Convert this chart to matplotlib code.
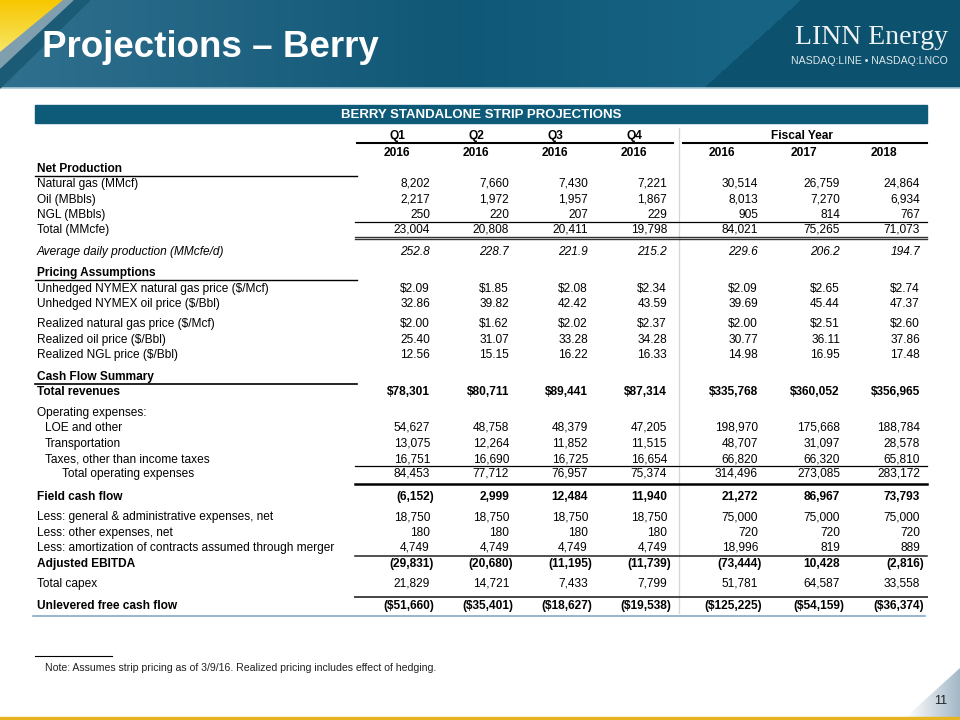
import matplotlib
matplotlib.use("Agg")
import matplotlib.pyplot as plt
import numpy as np
from matplotlib.patches import Polygon, Rectangle

plt.rcParams['font.family'] = ['Liberation Sans', 'DejaVu Sans']

#-- table data
col_heads = ["Q1", "Q2", "Q3", "Q4"]
col_years = ["2016", "2016", "2016", "2016", "2016", "2017", "2018"]

nat_gas = [8202, 7660, 7430, 7221, 30514, 26759, 24864]
oil = [2217, 1972, 1957, 1867, 8013, 7270, 6934]
ngl = [250, 220, 207, 229, 905, 814, 767]
total_prod = [23004, 20808, 20411, 19798, 84021, 75265, 71073]
avg_daily = [252.8, 228.7, 221.9, 215.2, 229.6, 206.2, 194.7]

nymex_gas = [2.09, 1.85, 2.08, 2.34, 2.09, 2.65, 2.74]
nymex_oil = [32.86, 39.82, 42.42, 43.59, 39.69, 45.44, 47.37]
real_gas = [2.00, 1.62, 2.02, 2.37, 2.00, 2.51, 2.60]
real_oil = [25.40, 31.07, 33.28, 34.28, 30.77, 36.11, 37.86]
real_ngl = [12.56, 15.15, 16.22, 16.33, 14.98, 16.95, 17.48]

revenues = [78301, 80711, 89441, 87314, 335768, 360052, 356965]
loe = [54627, 48758, 48379, 47205, 198970, 175668, 188784]
transport = [13075, 12264, 11852, 11515, 48707, 31097, 28578]
taxes = [16751, 16690, 16725, 16654, 66820, 66320, 65810]
total_opex = [84453, 77712, 76957, 75374, 314496, 273085, 283172]
field_cf = [-6152, 2999, 12484, 11940, 21272, 86967, 73793]
gna = [18750, 18750, 18750, 18750, 75000, 75000, 75000]
other_exp = [180, 180, 180, 180, 720, 720, 720]
amort = [4749, 4749, 4749, 4749, 18996, 819, 889]
adj_ebitda = [-29831, -20680, -11195, -11739, -73444, 10428, -2816]
capex = [21829, 14721, 7433, 7799, 51781, 64587, 33558]
unlev_fcf = [-51660, -35401, -18627, -19538, -125225, -54159, -36374]

note = "Note: Assumes strip pricing as of 3/9/16. Realized pricing includes effect of hedging."


def fmt(v, kind):
    if kind == "dec1":
        return "%.1f" % v
    if kind == "dec2":
        return "%.2f" % v
    if kind == "usd2":
        return "$%.2f" % v
    s = "{:,}".format(abs(int(v)))
    if kind == "usd0":
        s = "$" + s
    return "(" + s + ")" if v < 0 else s


# (label, values, format, weight/style, indent, y)
rows = [
    ("Net Production", None, None, "bold", 0, 168),
    ("Natural gas (MMcf)", nat_gas, "int", "normal", 0, 183),
    ("Oil (MBbls)", oil, "int", "normal", 0, 199),
    ("NGL (MBbls)", ngl, "int", "normal", 0, 214),
    ("Total (MMcfe)", total_prod, "int", "normal", 0, 229),
    ("Average daily production (MMcfe/d)", avg_daily, "dec1", "italic", 0, 251),
    ("Pricing Assumptions", None, None, "bold", 0, 272),
    ("Unhedged NYMEX natural gas price ($/Mcf)", nymex_gas, "usd2", "normal", 0, 288),
    ("Unhedged NYMEX oil price ($/Bbl)", nymex_oil, "dec2", "normal", 0, 303),
    ("Realized natural gas price ($/Mcf)", real_gas, "usd2", "normal", 0, 323),
    ("Realized oil price ($/Bbl)", real_oil, "dec2", "normal", 0, 339),
    ("Realized NGL price ($/Bbl)", real_ngl, "dec2", "normal", 0, 354),
    ("Cash Flow Summary", None, None, "bold", 0, 376),
    ("Total revenues", revenues, "usd0", "bold", 0, 391),
    ("Operating expenses:", None, None, "normal", 0, 412),
    ("LOE and other", loe, "int", "normal", 1, 427),
    ("Transportation", transport, "int", "normal", 1, 443),
    ("Taxes, other than income taxes", taxes, "int", "normal", 1, 458),
    ("Total operating expenses", total_opex, "int", "normal", 2, 473),
    ("Field cash flow", field_cf, "int", "bold", 0, 496),
    ("Less: general & administrative expenses, net", gna, "int", "normal", 0, 516),
    ("Less: other expenses, net", other_exp, "int", "normal", 0, 532),
    ("Less: amortization of contracts assumed through merger", amort, "int", "normal", 0, 547),
    ("Adjusted EBITDA", adj_ebitda, "int", "bold", 0, 563),
    ("Total capex", capex, "int", "normal", 0, 583),
    ("Unlevered free cash flow", unlev_fcf, "usd0", "bold", 0, 605),
]

col_right = [430, 509, 588, 667, 758, 840, 920]
indent_x = [37, 45, 62]
fs = 8.6

fig = plt.figure(figsize=(9.6, 7.2), dpi=100)
ax = fig.add_axes([0, 0, 1, 1])

#-- header banner
H, W = 88, 960
xx, yy = np.meshgrid(np.arange(W), np.arange(H))
c_left = np.array([0.19, 0.44, 0.56])
c_mid = np.array([0.06, 0.34, 0.46])
t = np.clip(xx / 460.0, 0, 1)[..., None]
img = c_left * (1 - t) + c_mid * t
diag = xx + 1.1 * yy - 800
glow = np.clip((xx - 430) / 300.0, 0, 1) * (diag < 0)
img = img + glow[..., None] * np.array([0.03, 0.05, 0.06])
img[diag >= 0] = np.array([0.05, 0.32, 0.43])
ax.imshow(img, extent=(0, 960, 88, 0), origin="upper", aspect="auto", zorder=0)
ax.plot([0, 960], [88, 88], color="#a9c6d4", lw=1.2, zorder=1)

ax.add_patch(Polygon([(0, 0), (90, 0), (0, 88)], closed=True, color="#1b5b75", zorder=2))
ax.add_patch(Polygon([(0, 0), (73, 0), (0, 68)], closed=True, color="#7f9fae", zorder=2))
yel = np.linspace(0, 1, 60)[:, None] * np.ones((1, 60))
yel_img = np.dstack([np.full_like(yel, 0.97), 0.78 + 0.12 * yel, 0.0 + 0.4 * yel])
tri_y = Polygon([(0, 0), (63, 0), (0, 52)], closed=True, transform=ax.transData)
im = ax.imshow(yel_img, extent=(0, 63, 52, 0), origin="upper", aspect="auto", zorder=3)
im.set_clip_path(tri_y)

ax.text(42, 57, "Projections \u2013 Berry", color="white", fontsize=26.5,
        fontweight="bold", ha="left", va="baseline", zorder=4)
ax.text(948, 38, "LINN Energy", color="#eef3f6", fontsize=20,
        family=["Liberation Serif", "DejaVu Serif"], ha="right", va="center", zorder=4)
ax.text(948, 61, "NASDAQ:LINE \u2022 NASDAQ:LNCO", color="#dde7ec", fontsize=7.6,
        ha="right", va="center", zorder=4)

#-- table title bar
ax.add_patch(Rectangle((35, 105), 892, 18, color="#0d5a79", zorder=1))
ax.text(481, 114.5, "BERRY STANDALONE STRIP PROJECTIONS", color="white",
        fontsize=9.5, fontweight="bold", ha="center", va="center")

#-- column headers
for i, h in enumerate(col_heads):
    ax.text(col_right[i] - 33, 139, h, fontsize=fs, fontweight="bold", ha="center", va="baseline")
ax.text(802, 139, "Fiscal Year", fontsize=fs, fontweight="bold", ha="center", va="baseline")
for i, yr in enumerate(col_years):
    off = 33 if i < 4 else 36
    ax.text(col_right[i] - off, 156, yr, fontsize=fs, fontweight="bold", ha="center", va="baseline")
ax.plot([357, 673], [143, 143], color="black", lw=1.5)
ax.plot([683, 927], [143, 143], color="black", lw=1.5)

#-- vertical separator
ax.plot([679, 679], [128, 613], color="#d6d6d6", lw=0.9)

#-- rows
for label, vals, kind, style, ind, y in rows:
    weight = "bold" if style == "bold" else "normal"
    fstyle = "italic" if style == "italic" else "normal"
    ax.text(indent_x[ind], y + 4, label, fontsize=fs, fontweight=weight,
            fontstyle=fstyle, ha="left", va="baseline")
    if vals is None:
        continue
    for i, v in enumerate(vals):
        s = fmt(v, kind)
        xr = col_right[i] + (4 if s.endswith(")") else 0)
        ax.text(xr, y + 4, s, fontsize=fs, fontweight=weight, fontstyle=fstyle,
                ha="right", va="baseline")

#-- section underlines (label column)
for y, lw in [(176, 1.0), (280, 1.0), (384, 1.2)]:
    ax.plot([35, 357], [y, y], color="black", lw=lw)

#-- number column rules
ax.plot([355, 927], [222, 222], color="black", lw=0.9)
ax.plot([355, 927], [236.5, 236.5], color="#333333", lw=1.0)
ax.plot([355, 927], [239, 239], color="#333333", lw=1.0)
ax.plot([355, 927], [466, 466], color="black", lw=0.9)
ax.plot([355, 927], [484, 484], color="black", lw=1.8)
ax.plot([355, 927], [556, 556], color="#222222", lw=1.1)
ax.plot([355, 927], [597, 597], color="#444444", lw=1.4)

#-- bottom table rule
ax.plot([33, 925], [616, 616], color="#8aa8c6", lw=1.2)

#-- footnote
ax.plot([35, 112], [656, 656], color="black", lw=0.8)
ax.text(45, 668, note, fontsize=7.6, ha="left", va="center", color="#222222")

#-- bottom right corner and page number
g = np.linspace(0, 1, 60)[None, :] * np.ones((50, 1))
corner_img = np.dstack([1 - 0.36 * g, 1 - 0.28 * g, 1 - 0.22 * g])
tri_c = Polygon([(906, 717), (960, 668), (960, 717)], closed=True, transform=ax.transData)
im2 = ax.imshow(corner_img, extent=(906, 960, 717, 668), origin="upper", aspect="auto", zorder=1)
im2.set_clip_path(tri_c)
ax.text(941, 701, "11", fontsize=9, ha="center", va="center", color="#222222", zorder=2)
ax.add_patch(Rectangle((0, 716.5), 960, 3.5, color="#e6b41e", zorder=2))

ax.set_xlim(0, 960)
ax.set_ylim(720, 0)
ax.axis("off")

fig.savefig("out.png", dpi=100)
